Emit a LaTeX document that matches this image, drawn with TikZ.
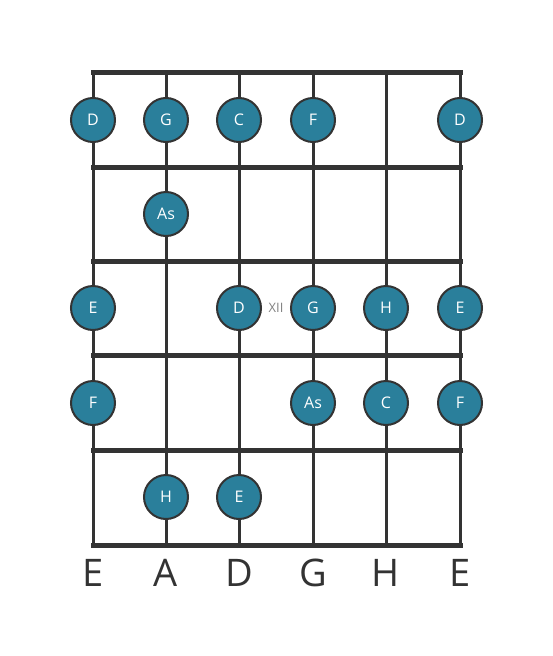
\documentclass[tikz,border=0pt]{standalone}
\usepackage{fontspec}
\setmainfont{Open Sans}
\usetikzlibrary{positioning,calc}
\definecolor{notec}{RGB}{42, 127, 155}
\definecolor{linec}{RGB}{51, 51, 51}
\definecolor{markc}{RGB}{130, 130, 130}
\tikzset{
	fret/.style={
		draw=linec, line width=5pt, line cap=rect
	},
	%
	string/.style={
		draw=linec, line width=3pt
	},
	%
	note/.style={
		circle, minimum size=44pt, inner sep=0pt, line width=2pt,
		draw=linec, fill=notec, text=white, font=\fontsize{16}{16}\selectfont
	},
	%
	tuning/.style={
		text=linec, font=\fontsize{38}{38}\selectfont
	},
	%
	fretmark/.style={
		text=markc, font=\fontsize{13}{13}\selectfont
	}
}

\begin{document}
\begin{tikzpicture}[x=1pt, y=-1pt]
\useasboundingbox (0,0) rectangle (553,656);

% strings
\foreach \sx in {93,166,239,313,386,460}
	\draw[string] (\sx,72) -- (\sx,545);
% frets
\foreach \fy in {72,167,261,355,450,545}
	\draw[fret] (93,\fy) -- (460,\fy);

\node(mark)[fretmark] at (276,308) {XII};

% first fret
\node(d1)[note] at (93,120) {D};
\node(g1)[note] at (166,120) {G};
\node(c1)[note] at (239,120) {C};
\node(f1)[note] at (313,120) {F};
\node(d2)[note] at (460,120) {D};

% second fret
\node(as1)[note] at (166,214) {As};

% third fret
\node(e1)[note] at (93,308) {E};
\node(d3)[note] at (239,308) {D};
\node(g2)[note] at (313,308) {G};
\node(h1)[note] at (386,308) {H};
\node(e2)[note] at (460,308) {E};

% fourth fret
\node(f2)[note] at (93,403) {F};
\node(as2)[note] at (313,403) {As};
\node(c2)[note] at (386,403) {C};
\node(f3)[note] at (460,403) {F};

% fifth fret
\node(h2)[note] at (166,497) {H};
\node(e3)[note] at (239,497) {E};

% open strings
\node(te1)[tuning] at (93,573) {E};
\node(ta)[tuning] at (166,573) {A};
\node(td)[tuning] at (239,573) {D};
\node(tg)[tuning] at (313,573) {G};
\node(th)[tuning] at (386,573) {H};
\node(te2)[tuning] at (460,573) {E};
\end{tikzpicture}
\end{document}
